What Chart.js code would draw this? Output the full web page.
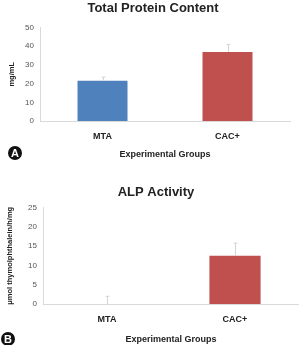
<!DOCTYPE html>
<html>
<head>
<meta charset="utf-8">
<script src="https://cdn.jsdelivr.net/npm/chart.js@4"></script>
<style>
  body { margin: 0; background: #fff; width: 299px; height: 345px; overflow: hidden; position: relative; font-family: "Liberation Sans", Arial, sans-serif; }
  .box { position: absolute; left: 0; width: 299px; }
  .tag { position: absolute; width: 14px; height: 14px; border-radius: 50%; background: #111; color: #fff;
         font: bold 11px "Liberation Sans", Arial, sans-serif; text-align: center; line-height: 14px; }
</style>
</head>
<body>
<div class="box" style="top:0;height:170px"><canvas id="chartA"></canvas></div>
<div class="box" style="top:170px;height:175px"><canvas id="chartB"></canvas></div>
<div class="tag" style="left:8px;top:146px">A</div>
<div class="tag" style="left:1px;top:332px">B</div>
<script>
// datos
const grupos = ["MTA", "CAC+"];
const proteina = [21.5, 37];
const proteinaErr = [2, 4];
const alp = [0, 12.5];
const alpErr = [2, 3.3];
const ticksProteina = [0, 10, 20, 30, 40, 50];
const ticksAlp = [0, 5, 10, 15, 20, 25];

const colores = ["#4f81bd", "#c0504d"];

// barras de error dibujadas con las escalas del gráfico
const errorBars = {
  id: "errorBars",
  afterDatasetsDraw(chart) {
    const ctx = chart.ctx;
    const y = chart.scales.y;
    const meta = chart.getDatasetMeta(0);
    const vals = chart.data.datasets[0].data;
    const errs = chart.data.datasets[0].errors;
    ctx.save();
    ctx.strokeStyle = "#d4d4d4";
    ctx.lineWidth = 1;
    meta.data.forEach((bar, i) => {
      const x = Math.round(bar.x) + 0.5;
      const y0 = y.getPixelForValue(vals[i]);
      const y1 = y.getPixelForValue(vals[i] + errs[i]);
      ctx.beginPath();
      ctx.moveTo(x, y0);
      ctx.lineTo(x, y1);
      ctx.moveTo(x - 2, y1);
      ctx.lineTo(x + 2, y1);
      ctx.stroke();
    });
    ctx.restore();
  }
};

// cfg: medidas del layout de cada panel
function makeChart(id, title, yTitle, values, errors, ticks, max, cfg) {
  return new Chart(document.getElementById(id), {
    type: "bar",
    data: {
      labels: grupos,
      datasets: [{ data: values, errors: errors, backgroundColor: colores, barPercentage: 0.4, categoryPercentage: 1 }]
    },
    options: {
      responsive: true,
      maintainAspectRatio: false,
      animation: false,
      layout: { padding: { left: cfg.left, right: cfg.right, top: 0, bottom: 0 } },
      plugins: {
        legend: { display: false },
        tooltip: { enabled: false },
        title: {
          display: true, text: title, color: "#222",
          font: { family: "Liberation Sans", size: 13, weight: "bold" },
          padding: cfg.titlePad
        }
      },
      scales: {
        x: {
          afterFit: s => { s.height = cfg.xHeight; },
          grid: { display: false, drawTicks: false },
          border: { color: "#d9d9d9" },
          ticks: { color: "#222", font: { family: "Liberation Sans", size: 9, weight: "bold" }, padding: 10 },
          title: { display: true, text: "Experimental Groups", color: "#222",
                   font: { family: "Liberation Sans", size: 9, weight: "bold" }, padding: { top: 0, bottom: cfg.xTitlePad } }
        },
        y: {
          min: 0, max: max,
          afterFit: s => { s.width = cfg.yWidth; },
          afterBuildTicks: s => { s.ticks = ticks.map(v => ({ value: v })); },
          grid: { display: false, drawTicks: false },
          border: { color: "#d9d9d9" },
          ticks: { color: "#555", font: { family: "Liberation Sans", size: 8 }, padding: cfg.yTickPad },
          title: { display: true, text: yTitle, color: "#222",
                   font: { family: "Liberation Sans", size: 7.5, weight: "bold" }, padding: cfg.yTitlePad }
        }
      }
    },
    plugins: [errorBars]
  });
}

makeChart("chartA", "Total Protein Content", "mg/mL", proteina, proteinaErr, ticksProteina, 50,
  { left: 16, right: 9, titlePad: { top: 1, bottom: 11 }, xHeight: 49, xTitlePad: 10, yWidth: 24, yTitlePad: -8.5, yTickPad: 6 });
makeChart("chartB", "ALP Activity", "μmol thymolphthalein/h/mg", alp, alpErr, ticksAlp, 25,
  { left: 13, right: 0, titlePad: { top: 15, bottom: 7 }, xHeight: 41, xTitlePad: 0, yWidth: 30, yTitlePad: -7.5, yTickPad: 6 });
</script>
</body>
</html>
